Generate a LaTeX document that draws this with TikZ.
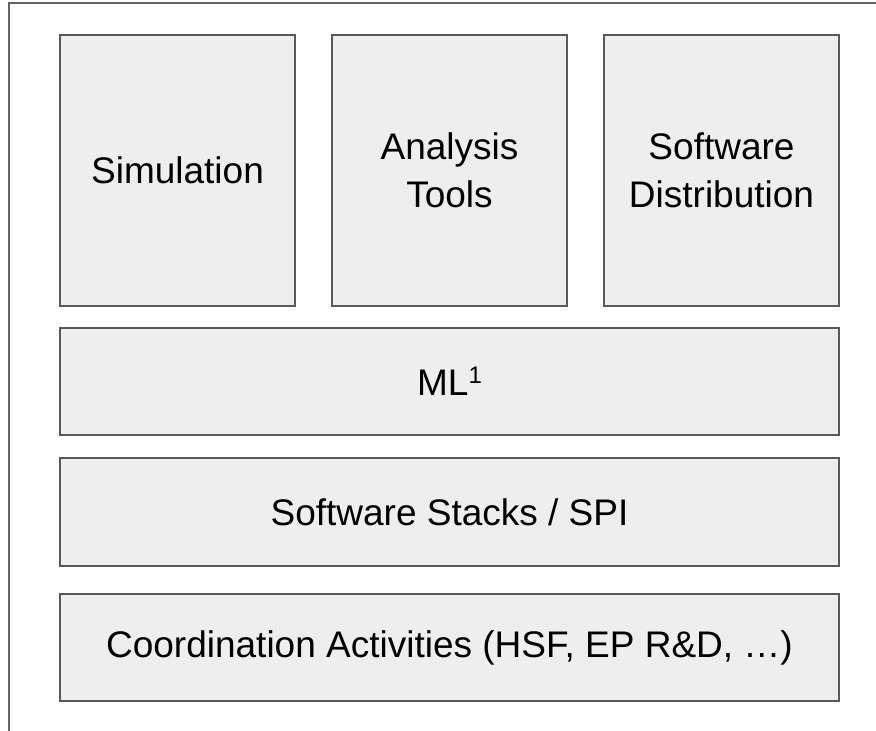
\documentclass[tikz,border=0pt]{standalone}
\usepackage{fontspec}
\setmainfont{Liberation Sans}
\definecolor{boxfill}{HTML}{EEEEEE}
\definecolor{boxline}{HTML}{595959}
\definecolor{frameline}{HTML}{666666}
\newcommand{\mysup}[1]{\raisebox{12pt}{\fontsize{24}{24}\selectfont #1}}
\begin{document}
\begin{tikzpicture}[x=1pt,y=-1pt,
  blockbox/.style={draw=boxline, fill=boxfill, line width=2pt, inner sep=0pt,
    align=center, font=\fontsize{37}{48}\selectfont, text=black}]
\useasboundingbox (0,0) rectangle (876,731);
\draw[frameline, line width=2pt] (876,3) -- (9,3) -- (9,731);
\node[blockbox, minimum width=235pt, minimum height=271pt] (sim) at (177.5,170) {Simulation};
\node[blockbox, minimum width=235pt, minimum height=271pt] (ana) at (449.5,170) {Analysis\\Tools};
\node[blockbox, minimum width=235pt, minimum height=271pt] (dist) at (721.5,170) {Software\\Distribution};
\node[blockbox, minimum width=779pt, minimum height=107pt] (ml) at (449.5,381.5) {ML\mysup{1}};
\node[blockbox, minimum width=779pt, minimum height=108pt] (spi) at (449.5,512) {Software Stacks / SPI};
\node[blockbox, minimum width=779pt, minimum height=107pt] (coord) at (449.5,647.5) {Coordination Activities (HSF, EP R\&D, …)};
\end{tikzpicture}
\end{document}
